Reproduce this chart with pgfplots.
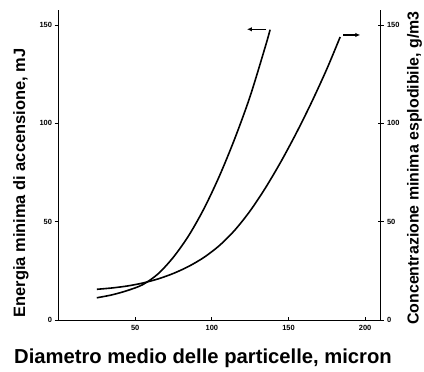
\documentclass[border=0pt]{standalone}
\usepackage{pgfplots}
\pgfplotsset{compat=1.18}
\usepackage{fontspec}
\setmainfont{Liberation Sans}
\usetikzlibrary{arrows.meta}
\begin{document}
\begin{tikzpicture}
\pgfplotsset{
 common/.style={
  at={(58.5bp,52bp)}, anchor=south west, scale only axis,
  width=322bp, height=310bp, xmin=0, xmax=210, ymin=0, ymax=157.6,
  axis line style={-, line width=0.9pt},
  tick style={line width=0.8pt, black},
  tick label style={font=\fontsize{7.5}{8}\selectfont\bfseries},
  /pgf/number format/assume math mode=true,
  clip=false,
 }}
% x axis
\begin{axis}[common, axis x line*=bottom, axis y line=none,
  xtick={50,100,150,200}, ytick=\empty, tick align=inside, major tick length=3bp,
  xticklabel style={yshift=-1.5bp}]
\end{axis}
% left y axis: energy
\begin{axis}[common, axis y line*=left, axis x line=none,
  ytick={0,50,100,150}, xtick=\empty, tick align=outside, major tick length=4bp,
  yticklabel style={xshift=1bp}]
\addplot[black, line width=1.6pt, smooth] coordinates {
 (25,11.3) (35,12.8) (45,15.0) (55,18.0) (65,23.5) (75,32) (85,43) (95,56.8)
 (105,73.3) (115,92.3) (125,113.8) (135,139.3) (138,147.6)};
\draw[line width=1.3pt, -{Latex[length=5bp,width=4.5bp]}] (axis cs:135.5,147.8) -- (axis cs:122.9,147.8);
\end{axis}
% right y axis: concentration
\begin{axis}[common, axis y line*=right, axis x line=none,
  ytick={0,50,100,150}, xtick=\empty, tick align=center, major tick length=6bp]
\addplot[black, line width=1.6pt, smooth] coordinates {
 (25,15.6) (35,16.3) (45,17.3) (55,18.8) (65,20.9) (75,23.7) (85,27.3) (95,31.9)
 (105,37.9) (115,45.7) (125,55.5) (135,67.2) (145,80.4) (155,94.9) (165,110.6)
 (175,127.6) (183.7,143.9)};
\draw[line width=1.3pt, -{Latex[length=5bp,width=4.5bp]}] (axis cs:185.7,144.9) -- (axis cs:196.8,144.9);
\end{axis}
\node[rotate=90, anchor=base, font=\fontsize{16.5}{18}\selectfont\bfseries] at (25bp,189bp) {Energia minima di accensione, mJ};
\node[rotate=90, anchor=base, font=\fontsize{16}{18}\selectfont\bfseries] at (418.5bp,204bp) {Concentrazione minima esplodibile, g/m3};
\node[anchor=base, font=\fontsize{20.3}{22}\selectfont\bfseries] at (203bp,9bp) {Diametro medio delle particelle, micron};
\pgfresetboundingbox
\path[use as bounding box] (0,0) rectangle (424bp,372bp);
\end{tikzpicture}
\end{document}
